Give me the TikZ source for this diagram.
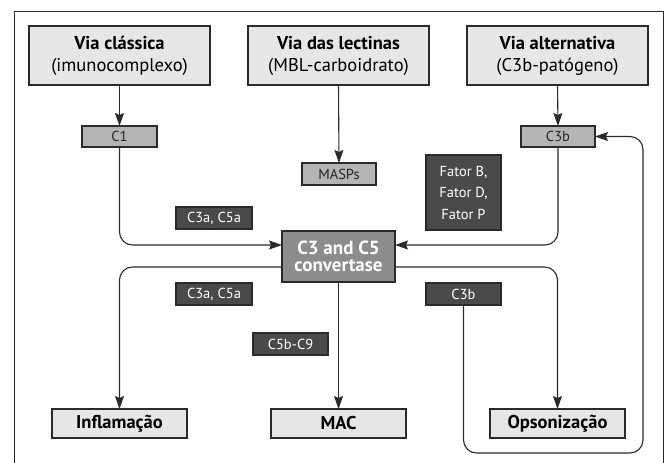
\documentclass[tikz,border=0pt]{standalone}
\usepackage{fontspec}
\setmainfont{PT Sans}
\usetikzlibrary{arrows.meta}
\definecolor{boxlight}{HTML}{E6E6E6}
\definecolor{boxmid}{HTML}{B4B4B4}
\definecolor{boxdark}{HTML}{4A4A4A}
\definecolor{boxconv}{HTML}{8C8C8C}
\definecolor{linecol}{HTML}{2A2A2A}
\begin{document}
\begin{tikzpicture}[x=1pt,y=-1pt,
  every node/.style={inner sep=0pt, outer sep=0pt, align=center},
  base/.style={draw=linecol, line width=1.1pt},
  top/.style={base, fill=boxlight, minimum width=181pt, minimum height=59pt, font=\fontsize{18.5}{22}\selectfont},
  mid/.style={base, fill=boxmid, minimum width=75pt, minimum height=21pt, font=\fontsize{14.5}{16}\selectfont, text=black!85},
  dark/.style={base, fill=boxdark, minimum width=76pt, minimum height=22pt, font=\fontsize{14.5}{16}\selectfont, text=white},
  res/.style={base, fill=boxlight, minimum width=135pt, minimum height=29pt, font=\fontsize{18.5}{20}\selectfont\bfseries},
  conv/.style={base, fill=boxconv, minimum width=113pt, minimum height=51pt, font=\fontsize{19}{17.5}\selectfont\bfseries, text=white},
  arr/.style={draw=linecol, line width=1.1pt, -{Stealth[length=13pt, width=9pt, inset=2pt]}},
  ln/.style={draw=linecol, line width=1.1pt, rounded corners=13pt}
]
\useasboundingbox (0,0) rectangle (667,463);
\draw[linecol, line width=1pt] (14,470) -- (14,11) -- (663,11) -- (663,470);

\node[top] (vc) at (119.5,55.5) {\textbf{Via clássica}\\(imunocomplexo)};
\node[top] (vl) at (338.5,55.5) {\textbf{Via das lectinas}\\(MBL-carboidrato)};
\node[top] (va) at (557.5,55.5) {\textbf{Via alternativa}\\(C3b-patógeno)};

\node[mid] (c1) at (119.5,136.5) {C1};
\node[mid, minimum width=74pt, minimum height=22pt] (masps) at (339,174) {MASPs};
\node[mid, minimum width=74pt] (c3bt) at (558,136.5) {C3b};

\node[dark, minimum width=75pt, minimum height=75pt, font=\fontsize{14.5}{21.5}\selectfont] (fator) at (463.5,192.5) {Fator B,\\Fator D,\\Fator P};
\node[dark] (c3a1) at (214,218) {C3a, C5a};
\node[conv] (conv) at (338.5,256.5) {C3 and C5\\convertase};
\node[dark] (c3a2) at (214,294) {C3a, C5a};
\node[dark, minimum width=75pt] (c5b) at (290.5,344) {C5b-C9};
\node[dark, minimum width=75pt] (c3b2) at (463.5,294) {C3b};

\node[res] (infl) at (119.5,423.5) {Inflamação};
\node[res] (mac) at (338.5,423.5) {MAC};
\node[res] (ops) at (557.5,423.5) {Opsonização};

\coordinate (loop) at (643,453);

\draw[arr] (vc.south) -- (c1.north);
\draw[arr] (vl.south) -- (masps.north);
\draw[arr] (va.south) -- (c3bt.north);
\draw[arr, rounded corners=13pt] (c1.south) |- ([yshift=11.5pt]conv.west);
\draw[arr, rounded corners=13pt] (c3bt.south) |- ([yshift=11.5pt]conv.east);
\draw[arr, rounded corners=13pt] ([yshift=-10.5pt]conv.west) -| (infl.north);
\draw[arr, rounded corners=13pt] ([yshift=-10.5pt]conv.east) -| (ops.north);
\draw[arr] (conv.south) -- (mac.north);
\draw[arr, rounded corners=13pt] (c3b2.south) |- (loop) |- (c3bt.east);
\end{tikzpicture}
\end{document}
